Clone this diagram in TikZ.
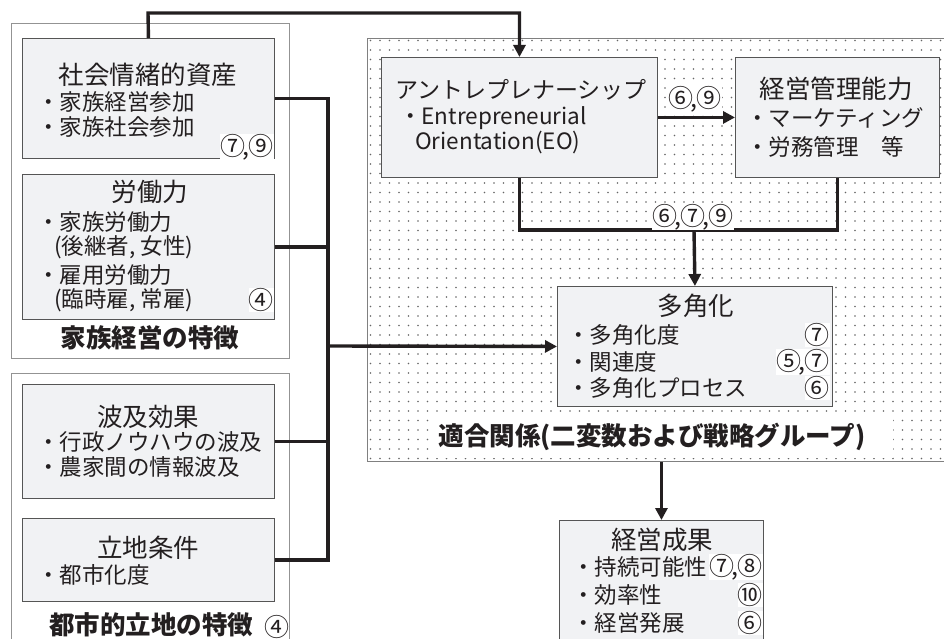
\documentclass[tikz,border=0pt]{standalone}
\usepackage{fontspec}
\setmainfont{Noto Sans CJK JP}
\usetikzlibrary{arrows.meta,patterns.meta}
\definecolor{boxfill}{HTML}{F1F2F4}
\definecolor{boxline}{HTML}{555555}
\definecolor{ink}{HTML}{231F20}
\newcommand{\cma}{\kern-3pt,\kern-0.5pt}
\begin{document}
\begin{tikzpicture}[x=1pt,y=-1pt,
  every node/.style={text=ink},
  panel/.style={draw=boxline, line width=0.9pt, fill=boxfill, inner sep=0, anchor=north west},
  group/.style={draw=gray!85, line width=0.8pt, inner sep=0, anchor=north west},
  conn/.style={line width=3.4pt, draw=ink},
  arr/.style={-{Triangle[length=12pt,width=12pt]}},
  ttl/.style={font=\fontsize{25.5}{30}\selectfont, inner sep=0},
  itm/.style={font=\fontsize{22.5}{26}\selectfont, inner sep=0, anchor=west},
  num/.style={font=\fontsize{25}{28}\selectfont, inner sep=0pt, fill=white, anchor=east},
  lbl/.style={font=\fontsize{25}{28}\selectfont, inner sep=0pt, fill=white},
  captxt/.style={font=\fontsize{25.5}{30}\selectfont\bfseries, inner sep=0},
]
\useasboundingbox (0,0) rectangle (944,639);

% dotted region
\node[anchor=north west, minimum width=583pt, minimum height=423pt, inner sep=0,
      pattern={Dots[distance=9.5pt,radius=0.8pt]}, pattern color=black!60,
      draw=gray, line width=1pt] (reg) at (367,38) {};
\node[anchor=north west, fill=white, inner sep=0, minimum width=461pt, minimum height=45pt] (capbg) at (432,413) {};

% group frames
\node[group, minimum width=278pt, minimum height=335pt] (g1) at (11,23) {};
\node[group, minimum width=278pt, minimum height=300pt] (g2) at (11,373) {};

% left boxes
\node[panel, minimum width=252pt, minimum height=120pt] (b1) at (22,38) {};
\node[panel, minimum width=252pt, minimum height=145pt] (b2) at (22,174) {};
\node[panel, minimum width=252pt, minimum height=114pt] (b3) at (22,384) {};
\node[panel, minimum width=252pt, minimum height=83pt] (b4) at (22,518) {};

% right boxes
\node[panel, minimum width=276pt, minimum height=120pt] (eo) at (381,57) {};
\node[panel, minimum width=204pt, minimum height=120pt] (mg) at (735,57) {};
\node[panel, minimum width=275pt, minimum height=120pt] (dv) at (557,286) {};
\node[panel, minimum width=204pt, minimum height=150pt] (out) at (559,520) {};

% texts b1
\node[ttl] (t1) at (148,75) {社会情緒的資産};
\node[itm] (t1a) at (37,102) {・家族経営参加};
\node[itm] (t1b) at (37,127) {・家族社会参加};
\node[num] (n1) at (274,147) {⑦\cma⑨};
% b2
\node[ttl] (t2) at (150,192) {労働力};
\node[itm] (t2a) at (37,222) {・家族労働力};
\node[itm] (t2b) at (54,247) {(後継者, 女性)};
\node[itm] (t2c) at (37,275) {・雇用労働力};
\node[itm] (t2d) at (54,300) {(臨時雇, 常雇)};
\node[num] (n2) at (274,300) {④};
\node[captxt] (c1) at (150,338) {家族経営の特徴};
% b3
\node[ttl] (t3) at (148,417) {波及効果};
\node[itm] (t3a) at (37,442) {・行政ノウハウの波及};
\node[itm] (t3b) at (37,467) {・農家間の情報波及};
% b4
\node[ttl] (t4) at (148,548) {立地条件};
\node[itm] (t4a) at (37,575) {・都市化度};
\node[captxt] (c2) at (151,625) {都市的立地の特徴};
\node[font=\fontsize{25}{28}\selectfont, inner sep=0] (n3) at (277,627) {④};

% eo
\node[font=\fontsize{23}{27}\selectfont, inner sep=0] (t5) at (521,90) {アントレプレナーシップ};
\node[itm] (t5a) at (399,118) {・Entrepreneurial};
\node[itm] (t5b) at (415,143) {Orientation(EO)};
% mg
\node[ttl] (t6) at (836,89) {経営管理能力};
\node[itm] (t6a) at (746,118) {・マーケティング};
\node[itm] (t6b) at (746,147) {・労務管理　等};
% dv
\node[ttl] (t7) at (696,306) {多角化};
\node[itm] (t7a) at (567,335) {・多角化度};
\node[itm] (t7b) at (567,362) {・関連度};
\node[itm] (t7c) at (567,388) {・多角化プロセス};
\node[num] (n7a) at (830,335) {⑦};
\node[num] (n7b) at (830,362) {⑤\cma⑦};
\node[num] (n7c) at (830,388) {⑥};
\node[captxt] (c3) at (652,437) {適合関係(二変数および戦略グループ)};
% out
\node[ttl] (t8) at (662,540) {経営成果};
\node[itm] (t8a) at (572,567) {・持続可能性};
\node[itm] (t8b) at (572,595) {・効率性};
\node[itm] (t8c) at (572,623) {・経営発展};
\node[num] (n8a) at (763,567) {⑦\cma⑧};
\node[num] (n8b) at (763,595) {⑩};
\node[num] (n8c) at (763,623) {⑥};

% connectors
\coordinate (tk) at (328,346);
\coordinate (top) at (148,13);
\coordinate (mj) at (694,230);
\draw[conn] (b1.east) -- (b1.east -| tk) -- (b4.east -| tk) -- (b4.east);
\draw[conn] (b2.east) -- (b2.east -| tk);
\draw[conn] (b3.east) -- (b3.east -| tk);
\draw[conn,arr] (tk) -- (dv.west);
\draw[conn,arr] (b1.north) -- (top) -| (eo.north);
\draw[conn,arr] (eo.east) -- (mg.west);
\draw[conn] (eo.south) |- (mj) -| (mg.south);
\draw[conn,arr] (mj) -- (dv.north);
\draw[conn,arr] (out.north |- reg.south) -- (out.north);

\node[lbl] (l1) at (695,99) {⑥\cma⑨};
\node[lbl] (l2) at (693,217) {⑥\cma⑦\cma⑨};
\end{tikzpicture}
\end{document}
